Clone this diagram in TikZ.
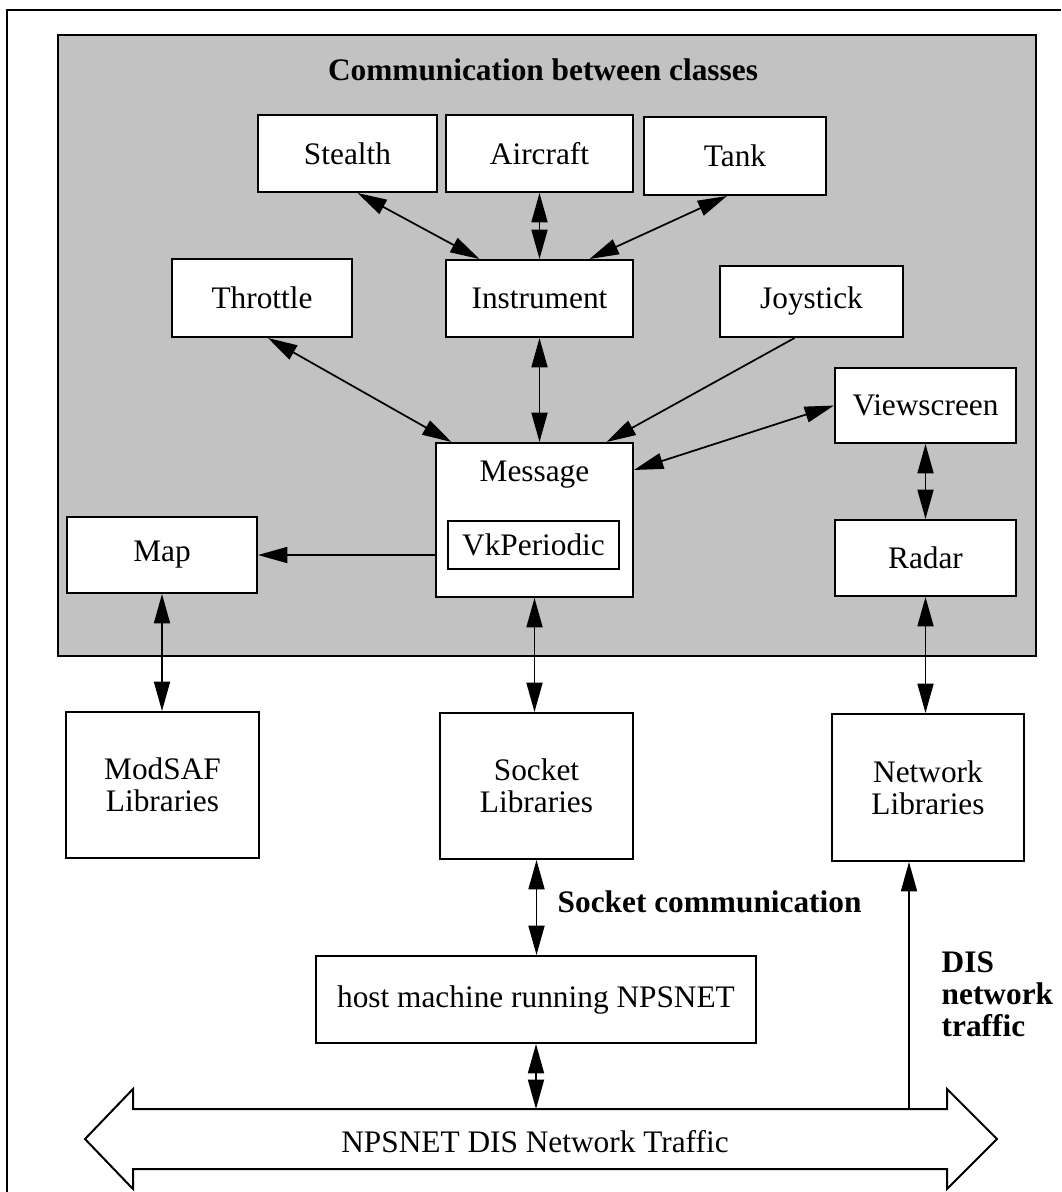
\documentclass[tikz,border=0pt]{standalone}
\usepackage{fontspec}
\setmainfont{Liberation Serif}
\usetikzlibrary{calc, arrows.meta}
\newcommand{\diagfont}{\fontsize{23.5}{24}\selectfont}
\tikzset{
  class box/.style={draw, line width=1.5pt, fill=white, inner sep=0pt, align=center},
  box size/.style 2 args={minimum width=#1*0.75pt, minimum height=#2*0.75pt},
  link line/.style={line width=1.3pt},
  both ways/.style={link line, <->},
  one way/.style={link line, ->},
  shade area/.style={draw, line width=1.5pt, fill=black!24},
  bus outline/.style={draw, line width=1.5pt, fill=white},
  note text/.style={font=\diagfont\bfseries},
  >={Triangle[length=22pt, width=12pt]},
}

\begin{document}
\begin{tikzpicture}[x=0.75pt, y=-0.75pt, font=\diagfont]
  \useasboundingbox (0,0) rectangle (1061,1192);
  % page frame, cut off at right and bottom
  \draw[line width=1.5pt] (7,1192) -- (7,10) -- (1061,10);
  \draw[shade area] (58,35) rectangle (1036,656);
  \node[note text] (title) at (543,70) {Communication between classes};

  % classes
  \node[class box, box size={179}{77}] (stealth) at (347.5,153.5) {Stealth};
  \node[class box, box size={187}{77}] (aircraft) at (539.5,153.5) {Aircraft};
  \node[class box, box size={182}{78}] (tank) at (735,156) {Tank};
  \node[class box, box size={180}{78}] (throttle) at (262,298) {Throttle};
  \node[class box, box size={187}{77}] (instrument) at (539.5,298.5) {Instrument};
  \node[class box, box size={183}{71}] (joystick) at (811.5,301.5) {Joystick};
  \node[class box, box size={181}{75}] (viewscreen) at (925.5,405.5) {Viewscreen};
  \node[class box, box size={181}{76}] (radar) at (925.5,558) {Radar};
  \node[class box, box size={197}{154}] (message) at (534.5,520) {};
  \node (msgname) at (534.5,475) {Message};
  \node[class box, box size={171}{48}] (vkperiodic) at (533.5,545) {VkPeriodic};
  \node[class box, box size={190}{76}] (map) at (162,555) {Map};

  % libraries and host
  \node[class box, box size={193}{146}] (modsaf) at (162.5,785) {ModSAF\\Libraries};
  \node[class box, box size={193}{146}] (socketlib) at (536.5,786) {Socket\\Libraries};
  \node[class box, box size={192}{147}] (networklib) at (928,787.5) {Network\\Libraries};
  \node[class box, box size={440}{87}] (host) at (536,999.5) {host machine running NPSNET};

  % network bus
  \draw[bus outline] (85,1139) -- (133,1089) -- (133,1109) -- (947,1109) -- (947,1089)
    -- (997,1139) -- (947,1189) -- (947,1169) -- (133,1169) -- (133,1189) -- cycle;
  \node (bustext) at (535,1142) {NPSNET DIS Network Traffic};
  \coordinate (busjoin) at (536,1109);
  \coordinate (bustap) at (909,1109);

  % links between classes
  \draw[both ways] ($(stealth.south)+(10,0)$) -- ($(instrument.north)+(-60,0)$);
  \draw[both ways] (aircraft.south) -- (aircraft.south |- instrument.north);
  \draw[both ways] ($(tank.south)+(-8,0)$) -- ($(instrument.north)+(50,0)$);
  \draw[both ways] ($(throttle.south)+(6,0)$) -- ($(message.north)+(-83,0)$);
  \draw[both ways] (instrument.south) -- (instrument.south |- message.north);
  \draw[one way] ($(joystick.south)+(-17,0)$) -- ($(message.north)+(72,0)$);
  \draw[both ways] (viewscreen.west) -- ($(message.east)+(0,-50)$);
  \draw[both ways] (viewscreen.south) -- (radar.north);
  \draw[one way] (message.west |- map.east) -- (map.east);

  % links down to the libraries
  \draw[both ways] (map.south) -- (map.south |- modsaf.north);
  \draw[both ways] (message.south) -- (message.south |- socketlib.north);
  \draw[both ways] (radar.south) -- (radar.south |- networklib.north);
  \draw[both ways] (socketlib.south) -- (socketlib.south |- host.north);
  \draw[both ways] (host.south) -- (host.south |- busjoin);
  \draw[one way] (bustap) -- (bustap |- networklib.south);

  \node[note text, anchor=west] (socketnote) at (553,902) {Socket communication};
  \node[note text, anchor=west, align=left] (disnote) at (937,994) {DIS\\network\\traffic};
\end{tikzpicture}
\end{document}
